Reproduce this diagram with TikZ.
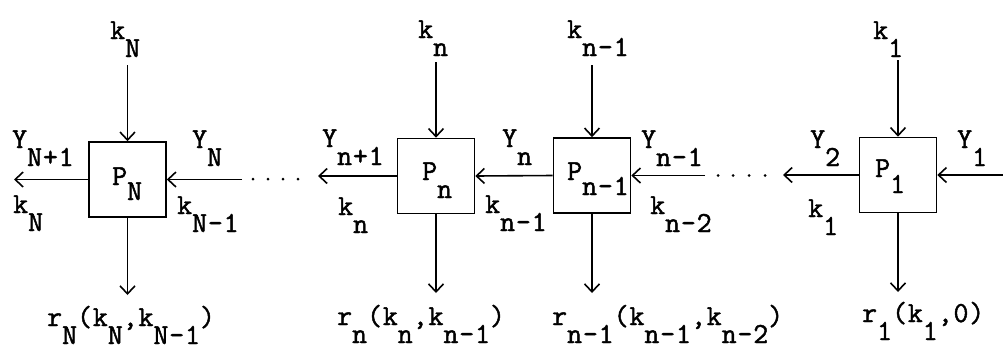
\documentclass[tikz,border=0pt]{standalone}
\usepackage{fontspec}
\newfontfamily\tw{Latin Modern Mono}[FakeBold=1.6,LetterSpace=3]
\usetikzlibrary{arrows.meta}
\newcommand\dn[2][18pt]{\raisebox{-#1}{#2}}
\begin{document}
\begin{tikzpicture}[x=1pt,y=-1pt,
  proc/.style={draw,line width=1.6pt,minimum width=77pt,minimum height=75pt,inner sep=0pt},
  lbl/.style={anchor=base west,inner sep=0pt,font=\tw\fontsize{29}{30}\selectfont},
  arr/.style={line width=1.6pt,-{Straight Barb[length=8pt,width=15pt,line width=1.6pt]}},
  dot/.style={fill,circle,inner sep=0pt,minimum size=3pt}]
\useasboundingbox (0,0) rectangle (1003,349);
% boxes
\node[proc] (PN) at (127.5,179.5) {};
\node[proc] (Pn) at (436,176) {};
\node[proc] (Pm) at (592,175.5) {};
\node[proc] (P1) at (898,175) {};
% box texts
\node[lbl] (tPN) at (112,185) {P\dn[15pt]{N}};
\node[lbl] (tPn) at (422,180) {P\dn{n}};
\node[lbl] (tPm) at (567,180) {P\dn[15pt]{n-1}};
\node[lbl] (tP1) at (875,177) {P\dn[16pt]{1}};
% free ends
\coordinate (topN) at (127.5,65);
\coordinate (topn) at (436,62);
\coordinate (topm) at (592,65);
\coordinate (top1) at (898,60);
\coordinate (botN) at (127.5,295);
\coordinate (botn) at (436,293);
\coordinate (botm) at (592,293);
\coordinate (bot1) at (898,292);
\coordinate (leftN) at (14,179.5);
\coordinate (inN) at (242,179.5);
\coordinate (leftn) at (318,176);
\coordinate (inm) at (705,175.5);
\coordinate (left1) at (783,175);
\coordinate (in1) at (1003,175);
% vertical arrows
\draw[arr] (topN) -- (PN.north);
\draw[arr] (topn) -- (Pn.north);
\draw[arr] (topm) -- (Pm.north);
\draw[arr] (top1) -- (P1.north);
\draw[arr] (PN.south) -- (botN);
\draw[arr] (Pn.south) -- (botn);
\draw[arr] (Pm.south) -- (botm);
\draw[arr] (P1.south) -- (bot1);
% horizontal arrows
\draw[arr] (PN.west) -- (leftN);
\draw[arr] (inN) -- (PN.east);
\draw[arr] (Pn.west) -- (leftn);
\draw[arr] (Pm.west) -- (Pn.east);
\draw[arr] (inm) -- (Pm.east);
\draw[arr] (P1.west) -- (left1);
\draw[arr] (in1) -- (P1.east);
% dots
\foreach \x [count=\i] in {253,268,283,298} \node[dot] (da\i) at (\x,179) {};
\foreach \x [count=\i] in {718,733,749,765} \node[dot] (db\i) at (\x,175.5) {};
% labels group N
\node[lbl] (kNt) at (110,39) {k\dn{N}};
\node[lbl] (YN1) at (12,148) {Y\dn{N+1}};
\node[lbl] (kNl) at (13,213) {k\dn{N}};
\node[lbl] (YN) at (192,148) {Y\dn{N}};
\node[lbl] (kN1) at (177,214) {k\dn{N-1}};
\node[lbl] (rN) at (47,326) {r\dn{N}(k\dn{N},k\dn{N-1})};
% group n
\node[lbl] (knt) at (418,38) {k\dn{n}};
\node[lbl] (Yn1) at (322,147) {Y\dn{n+1}};
\node[lbl] (knl) at (338,215) {k\dn{n}};
\node[lbl] (Yn) at (502,147) {Y\dn{n}};
\node[lbl] (kn1) at (485,213) {k\dn{n-1}};
\node[lbl] (rn) at (337,325) {r\dn{n}(k\dn{n},k\dn{n-1})};
% group n-1
\node[lbl] (kmt) at (567,38) {k\dn{n-1}};
\node[lbl] (Ym) at (641,148) {Y\dn{n-1}};
\node[lbl] (km2) at (650,214) {k\dn{n-2}};
\node[lbl] (rm) at (552,325) {r\dn{n-1}(k\dn{n-1},k\dn{n-2})};
% group 1
\node[lbl] (k1t) at (873,39) {k\dn{1}};
\node[lbl] (Y2) at (810,148) {Y\dn{2}};
\node[lbl] (k1l) at (808,217) {k\dn{1}};
\node[lbl] (Y1) at (957,148) {Y\dn{1}};
\node[lbl] (r1) at (862,322) {r\dn{1}(k\dn{1},0)};
\end{tikzpicture}
\end{document}
